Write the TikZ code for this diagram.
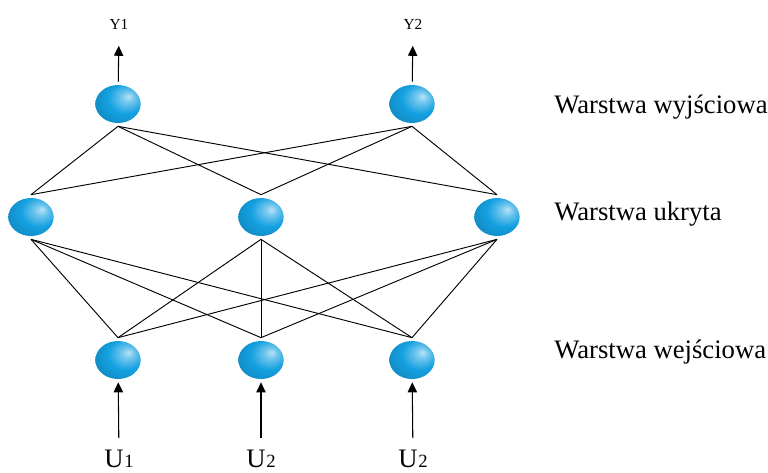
\documentclass[tikz,border=0pt]{standalone}
\usepackage{fontspec}
\setmainfont{Liberation Serif}
\usetikzlibrary{shapes.geometric,arrows.meta}
\definecolor{ballblue}{RGB}{20,160,225}
\pgfdeclareradialshading{sphereshade}{\pgfpoint{12bp}{10bp}}{%
  color(0bp)=(ballblue!30!white); color(7bp)=(ballblue!60!white);
  color(20bp)=(ballblue); color(42bp)=(ballblue!80!black);
  color(70bp)=(ballblue!45!black)}
\tikzset{
  neuron/.style={ellipse,minimum width=34pt,minimum height=28.5pt,inner sep=0pt,
                 outer sep=2.5pt,shading=sphereshade},
  link/.style={line width=0.7pt},
  arr/.style={line width=0.8pt,-{Triangle[length=7.5pt,width=7pt]}},
  layer/.style={anchor=base west,inner xsep=0pt,font=\fontsize{20}{22}\selectfont},
  inlabel/.style={anchor=base,font=\fontsize{20}{22}\selectfont},
  outlabel/.style={font=\fontsize{11.5}{12}\selectfont},
}
\begin{document}
\begin{tikzpicture}[x=0.75pt,y=-0.75pt]
  \useasboundingbox (0,0) rectangle (768,472);
  % neurons
  \foreach \n/\x/\y in {o1/118/104,o2/412/104,%
                        h1/31/217,h2/261/217,h3/497/217,%
                        i1/118/360,i2/261/360,i3/412/360}
    \node[neuron] (\n) at (\x,\y) {};
  % weights
  \foreach \a in {o1,o2}
    \foreach \b in {h1,h2,h3}
      \draw[link] (\a.south) -- (\b.north);
  \foreach \a in {h1,h2,h3}
    \foreach \b in {i1,i2,i3}
      \draw[link] (\a.south) -- (\b.north);
  % outputs
  \node[outlabel] (y1) at (119,24) {Y1};
  \node[outlabel] (y2) at (413,24) {Y2};
  \draw[arr,shorten >=9pt] (o1) -- (y1);
  \draw[arr,shorten >=9pt] (o2) -- (y2);
  % inputs
  \foreach \n/\x/\l in {u1/119/1,u2/261/2,u3/413/2} {
    \node[inlabel] (\n) at (\x,467) {U\kern0.5pt{\fontsize{14}{14}\selectfont\l}};
  }
  \draw[arr,shorten <=5pt] (u1) -- (i1);
  \draw[arr,shorten <=5pt] (u2) -- (i2);
  \draw[arr,shorten <=5pt] (u3) -- (i3);
  % layers
  \node[layer] (lo) at (554,113) {Warstwa wyjściowa};
  \node[layer] (lh) at (554,220) {Warstwa ukryta};
  \node[layer] (li) at (554,358) {Warstwa wejściowa};
\end{tikzpicture}
\end{document}
